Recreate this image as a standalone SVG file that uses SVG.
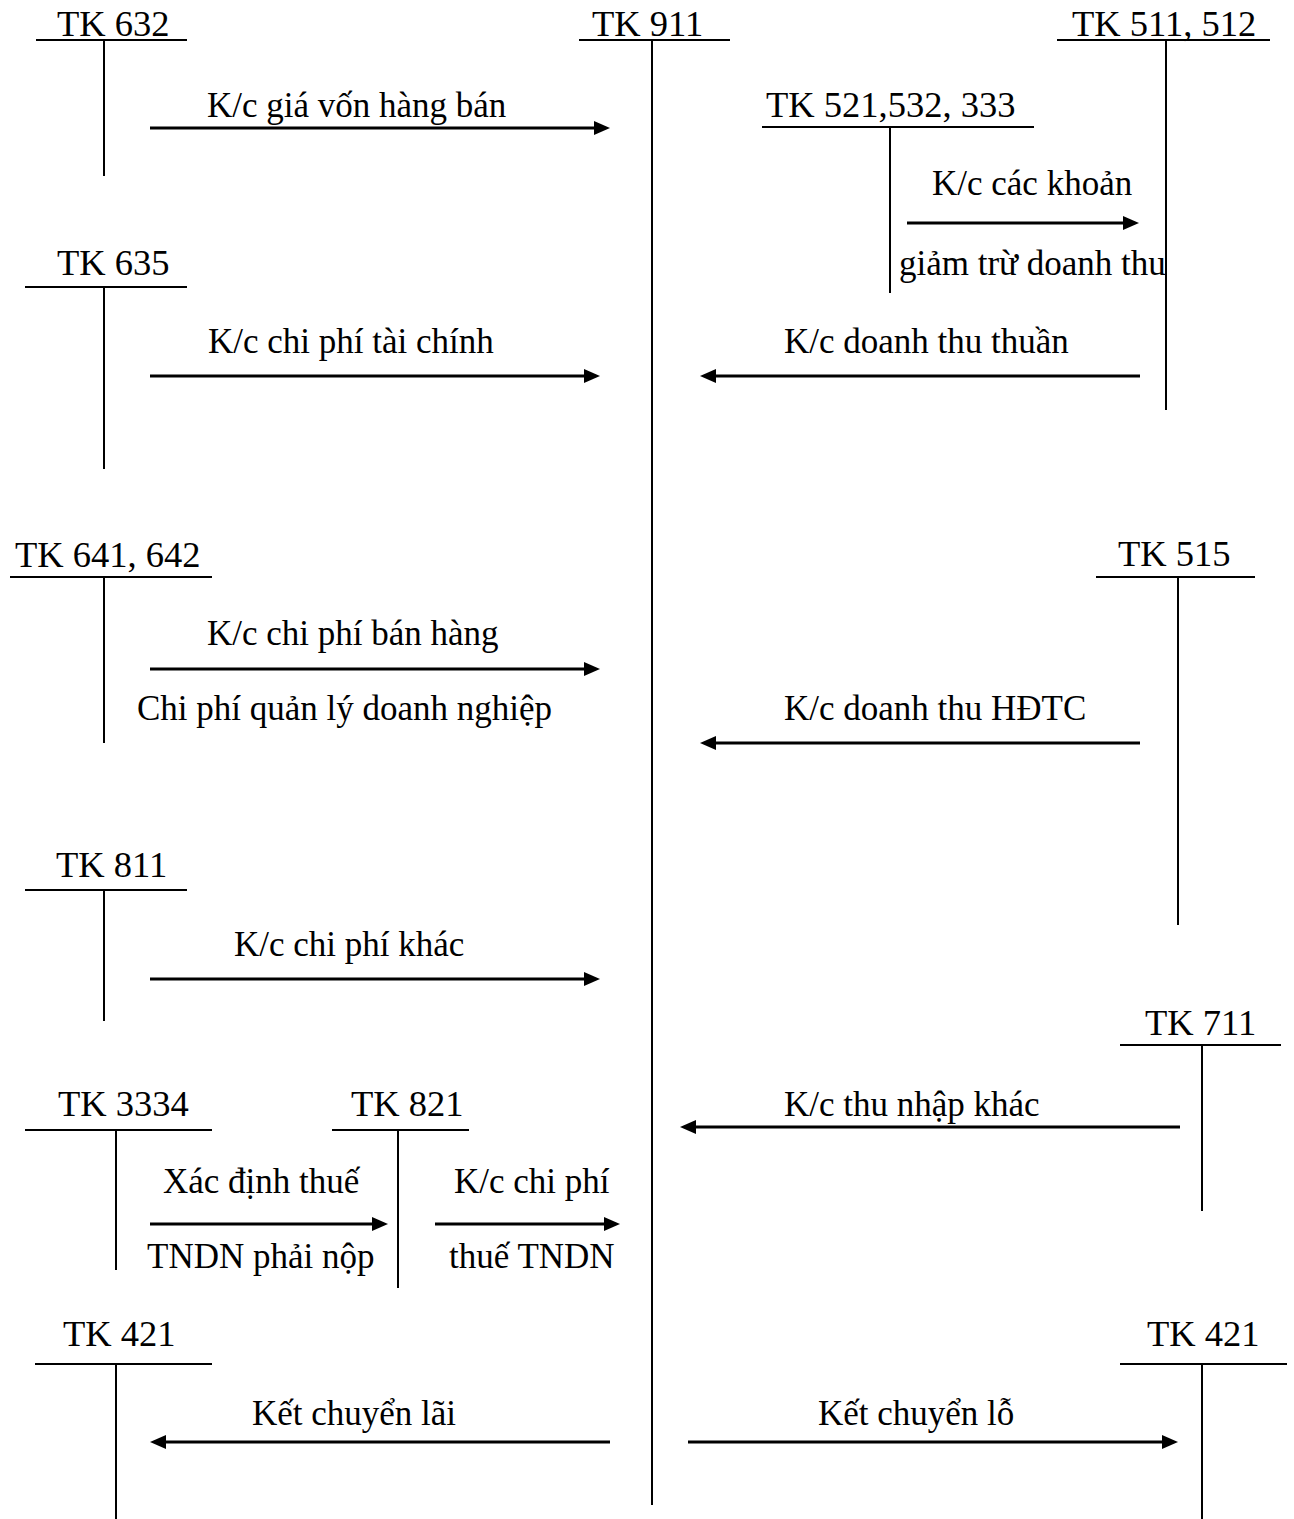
<svg xmlns="http://www.w3.org/2000/svg" width="1294" height="1519" viewBox="0 0 1294 1519">
  <style>
    text { font-family: "Liberation Serif", "Times New Roman", serif; fill: #000; }
    .hd { font-size: 36.5px; }
    .lb { font-size: 35px; }
    .t { stroke: #000; stroke-width: 2; fill: none; }
    .arr { stroke: #000; stroke-width: 3; fill: none; marker-end: url(#ah); }
  </style>
  <defs>
    <!-- filled arrowhead, tip sits 13px past the end of the line -->
    <marker id="ah" viewBox="0 0 16 14" markerWidth="16" markerHeight="14" refX="3" refY="7" orient="auto" markerUnits="userSpaceOnUse">
      <path d="M0,0 L16,7 L0,14 z" fill="#000"/>
    </marker>
  </defs>
  <rect width="1294" height="1519" fill="#fff"/>

  <!-- T-accounts -->
  <g id="tk632">
    <text class="hd" x="57" y="36">TK 632</text>
    <line class="t" x1="36" y1="40" x2="187" y2="40"/>
    <line class="t" x1="104" y1="40" x2="104" y2="176"/>
  </g>
  <g id="tk911">
    <text class="hd" x="592" y="36">TK 911</text>
    <line class="t" x1="579" y1="40" x2="730" y2="40"/>
    <line class="t" x1="652" y1="40" x2="652" y2="1505"/>
  </g>
  <g id="tk511">
    <text class="hd" x="1072" y="36">TK 511, 512</text>
    <line class="t" x1="1057" y1="40" x2="1270" y2="40"/>
    <line class="t" x1="1166" y1="40" x2="1166" y2="410"/>
  </g>
  <g id="tk521">
    <text class="hd" x="766" y="117">TK 521,532, 333</text>
    <line class="t" x1="762" y1="127" x2="1034" y2="127"/>
    <line class="t" x1="890" y1="127" x2="890" y2="293"/>
  </g>
  <g id="tk635">
    <text class="hd" x="57" y="275">TK 635</text>
    <line class="t" x1="25" y1="287" x2="187" y2="287"/>
    <line class="t" x1="104" y1="287" x2="104" y2="469"/>
  </g>
  <g id="tk641">
    <text class="hd" x="15" y="567">TK 641, 642</text>
    <line class="t" x1="10" y1="577" x2="212" y2="577"/>
    <line class="t" x1="104" y1="577" x2="104" y2="743"/>
  </g>
  <g id="tk515">
    <text class="hd" x="1118" y="566">TK 515</text>
    <line class="t" x1="1096" y1="577" x2="1255" y2="577"/>
    <line class="t" x1="1178" y1="577" x2="1178" y2="925"/>
  </g>
  <g id="tk811">
    <text class="hd" x="56" y="877">TK 811</text>
    <line class="t" x1="25" y1="890" x2="187" y2="890"/>
    <line class="t" x1="104" y1="890" x2="104" y2="1021"/>
  </g>
  <g id="tk711">
    <text class="hd" x="1145" y="1035">TK 711</text>
    <line class="t" x1="1120" y1="1045" x2="1281" y2="1045"/>
    <line class="t" x1="1202" y1="1045" x2="1202" y2="1211"/>
  </g>
  <g id="tk3334">
    <text class="hd" x="58" y="1116">TK 3334</text>
    <line class="t" x1="25" y1="1130" x2="212" y2="1130"/>
    <line class="t" x1="116" y1="1130" x2="116" y2="1270"/>
  </g>
  <g id="tk821">
    <text class="hd" x="351" y="1116">TK 821</text>
    <line class="t" x1="332" y1="1130" x2="469" y2="1130"/>
    <line class="t" x1="398" y1="1130" x2="398" y2="1288"/>
  </g>
  <g id="tk421-left">
    <text class="hd" x="63" y="1346">TK 421</text>
    <line class="t" x1="35" y1="1364" x2="212" y2="1364"/>
    <line class="t" x1="116" y1="1364" x2="116" y2="1519"/>
  </g>
  <g id="tk421-right">
    <text class="hd" x="1147" y="1346">TK 421</text>
    <line class="t" x1="1120" y1="1364" x2="1287" y2="1364"/>
    <line class="t" x1="1202" y1="1364" x2="1202" y2="1519"/>
  </g>

  <!-- transfer arrows and their labels -->
  <g id="connectors">
    <line class="arr" x1="150" y1="128" x2="597" y2="128"/>
    <text class="lb" x="207" y="117">K/c giá vốn hàng bán</text>

    <line class="arr" x1="907" y1="223" x2="1126" y2="223"/>
    <text class="lb" x="932" y="195">K/c các khoản</text>
    <text class="lb" x="899" y="275">giảm trừ doanh thu</text>

    <line class="arr" x1="150" y1="376" x2="587" y2="376"/>
    <text class="lb" x="208" y="353">K/c chi phí tài chính</text>

    <line class="arr" x1="1140" y1="376" x2="713" y2="376"/>
    <text class="lb" x="784" y="353">K/c doanh thu thuần</text>

    <line class="arr" x1="150" y1="669" x2="587" y2="669"/>
    <text class="lb" x="207" y="645">K/c chi phí bán hàng</text>
    <text class="lb" x="137" y="720">Chi phí quản lý doanh nghiệp</text>

    <line class="arr" x1="1140" y1="743" x2="713" y2="743"/>
    <text class="lb" x="784" y="720">K/c doanh thu HĐTC</text>

    <line class="arr" x1="150" y1="979" x2="587" y2="979"/>
    <text class="lb" x="234" y="956">K/c chi phí khác</text>

    <line class="arr" x1="1180" y1="1127" x2="693" y2="1127"/>
    <text class="lb" x="784" y="1116">K/c thu nhập khác</text>

    <line class="arr" x1="150" y1="1224" x2="375" y2="1224"/>
    <text class="lb" x="163" y="1193">Xác định thuế</text>
    <text class="lb" x="147" y="1268">TNDN phải nộp</text>

    <line class="arr" x1="435" y1="1224" x2="607" y2="1224"/>
    <text class="lb" x="454" y="1193">K/c chi phí</text>
    <text class="lb" x="449" y="1268">thuế TNDN</text>

    <line class="arr" x1="610" y1="1442" x2="163" y2="1442"/>
    <text class="lb" x="252" y="1425">Kết chuyển lãi</text>

    <line class="arr" x1="688" y1="1442" x2="1165" y2="1442"/>
    <text class="lb" x="818" y="1425">Kết chuyển lỗ</text>
  </g>
</svg>
